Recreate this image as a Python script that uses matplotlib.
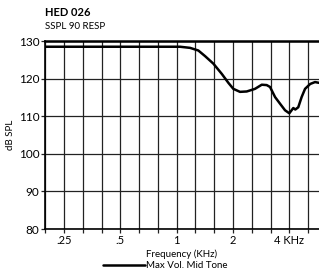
import numpy as np
import matplotlib
matplotlib.use("Agg")
import matplotlib.pyplot as plt
from matplotlib.ticker import FixedLocator, NullFormatter

plt.rcParams['font.family'] = ['Lato', 'DejaVu Sans']

# response curve (kHz, dB SPL)
freq = [0.198, 1.042, 1.179, 1.305, 1.418, 1.570, 1.740, 1.888, 2.007, 2.178,
        2.366, 2.620, 2.847, 3.025, 3.151, 3.354, 3.570, 3.790, 3.995, 4.196,
        4.300, 4.460, 4.647, 4.848, 5.165, 5.480, 5.755]
spl = [128.5, 128.5, 128.2, 127.5, 126.0, 124.0, 121.3, 118.9, 117.3, 116.5,
       116.6, 117.3, 118.4, 118.3, 117.8, 115.1, 113.3, 111.6, 110.8, 112.2,
       111.8, 112.4, 115.1, 117.3, 118.6, 119.1, 118.9]

xtick_pos = [0.25, 0.5, 1, 2, 4]
xtick_lab = [".25", ".5", "1", "2", "4 KHz"]
ytick_pos = [80, 90, 100, 110, 120, 130]

fig = plt.figure(figsize=(3.19, 2.74), dpi=100)
ax = fig.add_axes([0.141, 0.164, 0.859, 0.686])

ax.plot(freq, spl, color="black", lw=1.8, label="Max Vol. Mid Tone",
        solid_capstyle="round", solid_joinstyle="round")

ax.set_xscale("log", base=2)
ax.set_xlim(0.198, 5.755)
ax.set_ylim(80, 130)

# third-octave grid
third = [0.25 * 2 ** (k / 3) for k in range(-1, 14)]
ax.xaxis.set_major_locator(FixedLocator(xtick_pos))
ax.set_xticklabels(xtick_lab)
ax.xaxis.set_minor_locator(FixedLocator([t for t in third if t not in xtick_pos]))
ax.xaxis.set_minor_formatter(NullFormatter())
ax.set_yticks(ytick_pos)

ax.grid(True, which="both", axis="x", color="#222222", lw=0.9)
ax.grid(True, which="major", axis="y", color="#222222", lw=0.9)
ax.set_axisbelow(True)

ax.tick_params(which="both", direction="out", length=3, width=0.9,
               color="#222222", labelsize=8, pad=1)
ax.tick_params(axis="y", labelsize=8.5, pad=1)

for side in ["left", "bottom"]:
    ax.spines[side].set_linewidth(1.2)
ax.spines["top"].set_linewidth(1.8)
ax.spines["right"].set_visible(False)

ax.set_ylabel("dB SPL", fontsize=7, labelpad=3)
ax.set_xlabel("Frequency (KHz)", fontsize=7, labelpad=3)

fig.text(0.141, 0.955, "HED 026", fontsize=8, fontweight="bold", va="center")
fig.text(0.141, 0.902, "SSPL 90 RESP", fontsize=7, va="center")

ax.legend(loc="upper center", bbox_to_anchor=(0.44, -0.145), frameon=False,
          fontsize=7, handlelength=4.3, handletextpad=0.1, borderpad=0)

fig.savefig("out.png", dpi=100)
